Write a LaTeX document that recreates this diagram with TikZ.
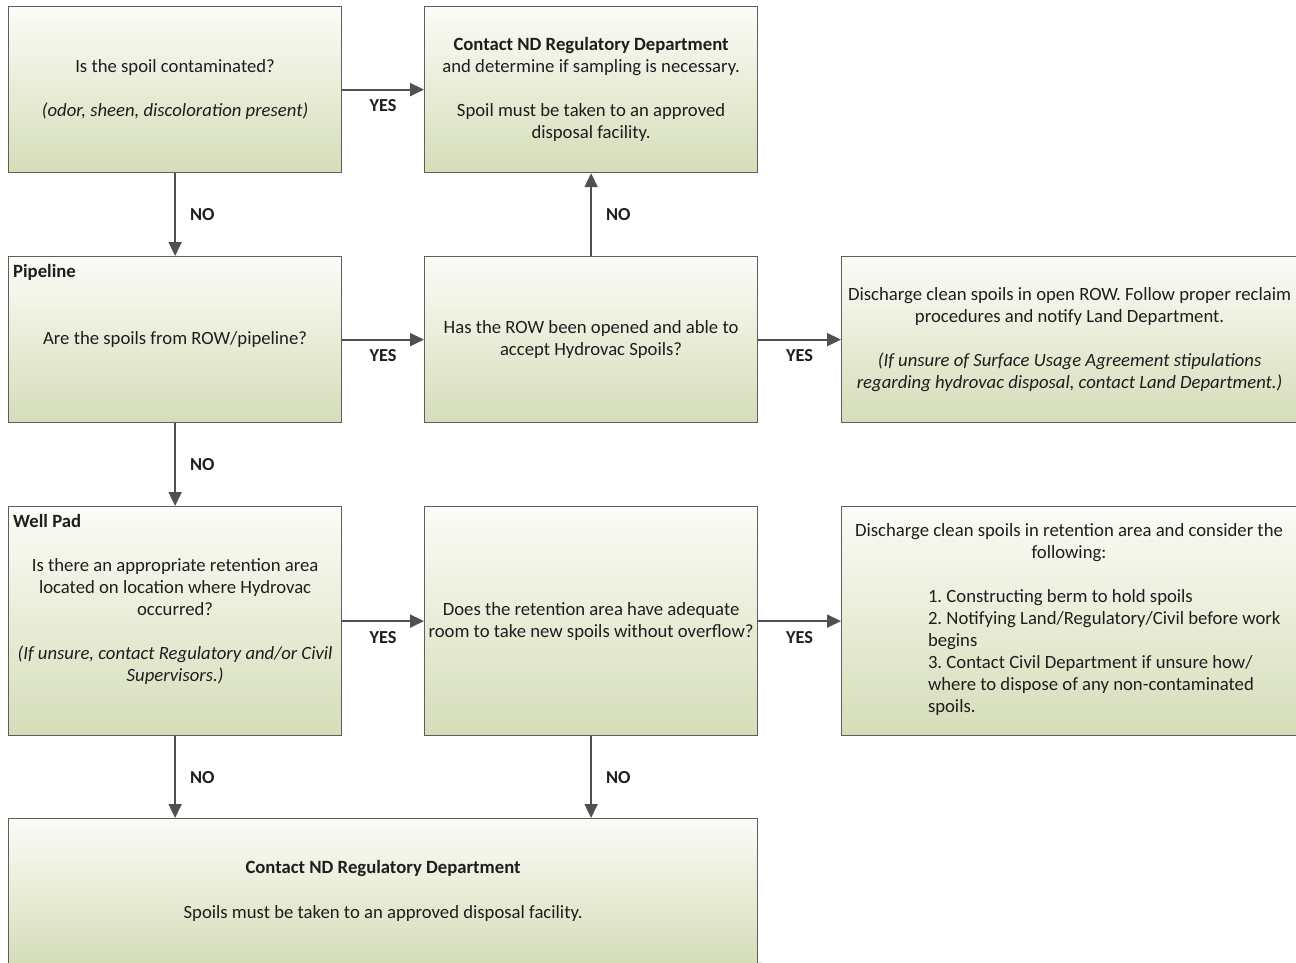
\documentclass[tikz,border=0pt]{standalone}
\usepackage{fontspec}
\setmainfont{Carlito}
\frenchspacing
\usetikzlibrary{arrows.meta,backgrounds}
\definecolor{gtop}{HTML}{FBFCF7}
\definecolor{gbot}{HTML}{D5DDB8}
\definecolor{bord}{HTML}{5E5E5E}
\definecolor{arrc}{HTML}{505050}
\definecolor{shad}{HTML}{E2E2E2}
\definecolor{txt}{HTML}{1E1E1E}
\begin{document}
\frenchspacing
\begin{tikzpicture}[x=1pt,y=-1pt,
  box/.style={draw=bord, line width=1.2pt, top color=gtop, bottom color=gbot, inner sep=0pt, anchor=north west, align=center, text=txt, font=\fontsize{18.7}{22}\selectfont\frenchspacing},
  arr/.style={draw=arrc, line width=2pt, -{Triangle[length=14pt,width=13pt]}},
  lab/.style={font=\fontsize{18.3}{20}\selectfont\bfseries, text=txt, inner sep=0pt},
  tag/.style={font=\fontsize{18.7}{22}\selectfont\bfseries, text=txt, inner sep=0pt, anchor=base west}]
\useasboundingbox (0,0) rectangle (1296,962);
\clip (0,0) rectangle (1296,962);
\fill[white] (0,0) rectangle (1296,962);

\node[box, minimum width=333pt, minimum height=166pt] (A) at (8,6)
  {Is the spoil contaminated?\\[22pt]\textit{(odor, sheen, discoloration present)}};
\node[box, minimum width=333pt, minimum height=166pt] (B) at (424,6)
  {\textbf{Contact ND Regulatory Department}\\and determine if sampling is necessary.\\[22pt]Spoil must be taken to an approved\\disposal facility.};
\node[box, minimum width=333pt, minimum height=166pt] (C) at (8,256)
  {Are the spoils from ROW/pipeline?};
\node[box, minimum width=333pt, minimum height=166pt] (D) at (424,256)
  {Has the ROW been opened and able to\\accept Hydrovac Spoils?};
\node[box, minimum width=456pt, minimum height=166pt] (E) at (841,256)
  {Discharge clean spoils in open ROW. Follow proper reclaim\\procedures and notify Land Department.\\[22pt]\textit{(If unsure of Surface Usage Agreement stipulations}\\\textit{regarding hydrovac disposal, contact Land Department.)}};
\node[box, minimum width=333pt, minimum height=229pt] (F) at (8,506)
  {Is there an appropriate retention area\\located on location where Hydrovac\\occurred?\\[22pt]\textit{(If unsure, contact Regulatory and/or Civil}\\\textit{Supervisors.)}};
\node[box, minimum width=333pt, minimum height=229pt] (G) at (424,506)
  {Does the retention area have adequate\\room to take new spoils without overflow?};
\node[box, minimum width=456pt, minimum height=229pt] (H) at (841,506) {};
\node[box, minimum width=749pt, minimum height=145pt] (I) at (8,818)
  {\textbf{Contact ND Regulatory Department}\\[23pt]Spoils must be taken to an approved disposal facility.};

\node[tag] (ptag) at (13,277) {Pipeline};
\node[tag] (wtag) at (13,527) {Well Pad};
\node[inner sep=0pt, anchor=base, text=txt, font=\fontsize{18.7}{22}\selectfont] (htext) at (1069,536)
  {\begin{minipage}[t]{450pt}\frenchspacing\centering Discharge clean spoils in retention area and consider the\\following:\par\vspace{22pt}\raggedright\leftskip=84pt
   1. Constructing berm to hold spoils\\2. Notifying Land/Regulatory/Civil before work\\begins\\3. Contact Civil Department if unsure how/\\where to dispose of any non-contaminated\\spoils.\end{minipage}};

\begin{scope}[on background layer]
  \foreach \n in {A,B,C,D,E,F,G,H,I}
    \fill[shad] ([shift={(4,4)}]\n.north west) rectangle ([shift={(4,4)}]\n.south east);
\end{scope}

\draw[arr] (A) -- (B) node[lab, midway, below=9pt] {YES};
\draw[arr] (A) -- (C) node[lab, midway, right=14pt] {NO};
\draw[arr] (D) -- (B) node[lab, midway, right=14pt] {NO};
\draw[arr] (C) -- (D) node[lab, midway, below=9pt] {YES};
\draw[arr] (D) -- (E) node[lab, midway, below=9pt] {YES};
\draw[arr] (C) -- (F) node[lab, midway, right=14pt] {NO};
\draw[arr] (F) -- (G) node[lab, midway, below=9pt] {YES};
\draw[arr] (G) -- (H) node[lab, midway, below=9pt] {YES};
\draw[arr] (F.south) -- (F.south |- I.north) node[lab, midway, right=14pt] {NO};
\draw[arr] (G.south) -- (G.south |- I.north) node[lab, midway, right=14pt] {NO};
\end{tikzpicture}
\end{document}
